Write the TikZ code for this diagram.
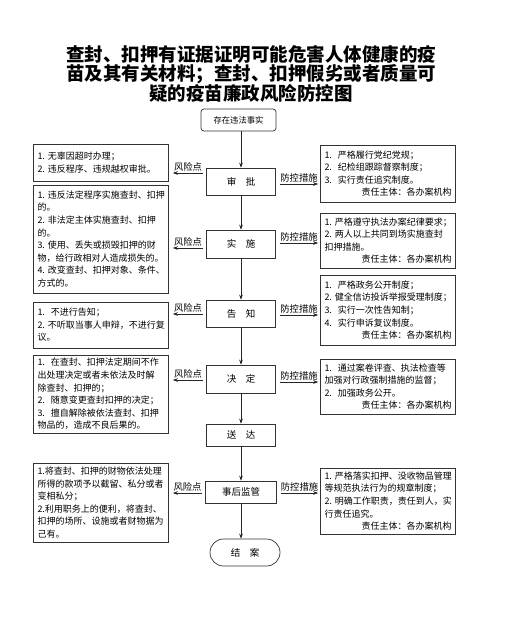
\documentclass[tikz,border=0pt]{standalone}
\usepackage{fontspec}
\setmainfont{Noto Sans CJK SC}
\usetikzlibrary{arrows.meta,shapes.misc}
\begin{document}
\begin{tikzpicture}[x=1pt,y=-1pt,
  side/.style={draw=black!80, line width=0.7pt, text width=127pt, align=left,
    inner xsep=4pt, inner ysep=3pt, font=\fontsize{9}{12.6}\selectfont},
  mid/.style={draw=black!80, line width=0.7pt, minimum width=69pt, inner sep=0pt,
    font=\fontsize{9.5}{11}\selectfont},
  arr/.style={-{Stealth[length=5pt,width=3.6pt]}, line width=0.6pt, draw=black!85},
  lab/.style={font=\fontsize{9.3}{10}\selectfont, inner sep=1pt, above}]
\useasboundingbox (0,0) rectangle (504,640);
\fill[white] (0,0) rectangle (504,640);

\node[font=\fontsize{18.5}{19.2}\selectfont\bfseries, align=center] (title) at (251,74)
  {查封、扣押有证据证明可能危害人体健康的疫\\苗及其有关材料；查封、扣押假劣或者质量可\\疑的疫苗廉政风险防控图};

% centre column
\node[mid, rounded corners=3pt, minimum width=75pt, minimum height=22pt,
  font=\fontsize{8.3}{10}\selectfont] (start) at (238.5,120) {存在违法事实};
\node[mid, minimum height=27pt] (sp) at (241,181.5) {审\quad 批};
\node[mid, minimum height=28pt] (ss) at (241,244) {实\quad 施};
\node[mid, minimum height=27pt] (gz) at (241,313.5) {告\quad 知};
\node[mid, minimum height=28pt] (jd) at (241,379) {决\quad 定};
\node[mid, minimum height=22pt] (sd) at (241,435) {送\quad 达};
\node[mid, minimum height=22pt, minimum width=71pt] (sh) at (241,492) {事后监管};
\node[draw=black!80, line width=0.7pt, rounded rectangle, minimum width=70pt, minimum height=27pt,
  inner sep=0pt, font=\fontsize{9.5}{11}\selectfont] (ja) at (245,552.5) {结\quad 案};

\draw[arr] (sp.north |- start.south) -- (sp.north);
\draw[arr] (sp.south) -- (ss.north);
\draw[arr] (ss.south) -- (gz.north);
\draw[arr] (gz.south) -- (jd.north);
\draw[arr] (jd.south) -- (sd.north);
\draw[arr] (sd.south) -- (sh.north);
\draw[arr] (sh.south) -- (sh.south |- ja.north);

% left (risk) boxes
\node[side, minimum height=37pt] (L1) at (101,162.5)
  {1.~无辜因超时办理；\\2.~违反程序、违规越权审批。};
\node[side, minimum height=108pt] (L2) at (101,239)
  {1.~违反法定程序实施查封、扣押\\的。\\2.~非法定主体实施查封、扣押\\的。\\3.~使用、丢失或损毁扣押的财\\物，给行政相对人造成损失的。\\4.~改变查封、扣押对象、条件、\\方式的。};
\node[side, minimum height=46pt] (L3) at (101,325)
  {1.~~不进行告知；\\2.~不听取当事人申辩，不进行复\\议。};
\node[side, minimum height=78pt] (L4) at (101,394)
  {1.~~在查封、扣押法定期间不作\\出处理决定或者未依法及时解\\除查封、扣押的；\\2.~~随意变更查封扣押的决定；\\3.~~擅自解除被依法查封、扣押\\物品的，造成不良后果的。};
\node[side, minimum height=79pt] (L5) at (101,502.5)
  {1.将查封、扣押的财物依法处理\\所得的款项予以截留、私分或者\\变相私分；\\2.利用职务上的便利，将查封、\\扣押的场所、设施或者财物据为\\己有。};

% right (control) boxes
\node[side, minimum height=57pt] (R1) at (388,173.5)
  {1.~~严格履行党纪党规；\\2.~~纪检组跟踪督察制度；\\3.~~实行责任追究制度。\\\hspace*{\fill}责任主体：各办案机构};
\node[side, minimum height=55pt] (R2) at (388,240.5)
  {1.~严格遵守执法办案纪律要求；\\2.~两人以上共同到场实施查封\\扣押措施。\\\hspace*{\fill}责任主体：各办案机构};
\node[side, minimum height=70pt] (R3) at (388,310)
  {1.~~严格政务公开制度；\\2.~健全信访投诉举报受理制度；\\3.~~实行一次性告知制；\\4.~~实行申诉复议制度。\\\hspace*{\fill}责任主体：各办案机构};
\node[side, minimum height=55pt] (R4) at (388,386.5)
  {1.~~通过案卷评查、执法检查等\\加强对行政强制措施的监督；\\2.~~加强政务公开。\\\hspace*{\fill}责任主体：各办案机构};
\node[side, minimum height=66pt] (R5) at (388,501)
  {1.~严格落实扣押、没收物品管理\\等规范执法行为的规章制度；\\2.~明确工作职责，责任到人，实\\行责任追究。\\\hspace*{\fill}责任主体：各办案机构};

% horizontal connectors
\draw[arr] ([xshift=-3pt]sp.west |- 0,173) -- node[lab]{风险点} ([xshift=4pt]L1.east |- 0,173);
\draw[arr] ([xshift=-3pt]ss.west |- 0,248) -- node[lab]{风险点} ([xshift=4pt]L2.east |- 0,248);
\draw[arr] ([xshift=-3pt]gz.west |- 0,314) -- node[lab]{风险点} ([xshift=4pt]L3.east |- 0,314);
\draw[arr] ([xshift=-3pt]jd.west |- 0,380) -- node[lab]{风险点} ([xshift=4pt]L4.east |- 0,380);
\draw[arr] ([xshift=-3pt]sh.west |- 0,493) -- node[lab]{风险点} ([xshift=4pt]L5.east |- 0,493);

\draw[arr] ([xshift=4pt]sp.east |- 0,184) -- node[lab]{防控措施} ([xshift=-2pt]R1.west |- 0,184);
\draw[arr] ([xshift=4pt]ss.east |- 0,243) -- node[lab]{防控措施} ([xshift=-2pt]R2.west |- 0,243);
\draw[arr] ([xshift=4pt]gz.east |- 0,315) -- node[lab]{防控措施} ([xshift=-2pt]R3.west |- 0,315);
\draw[arr] ([xshift=4pt]jd.east |- 0,382) -- node[lab]{防控措施} ([xshift=-2pt]R4.west |- 0,382);
\draw[arr] ([xshift=4pt]sh.east |- 0,493) -- node[lab]{防控措施} ([xshift=-2pt]R5.west |- 0,493);
\end{tikzpicture}
\end{document}
